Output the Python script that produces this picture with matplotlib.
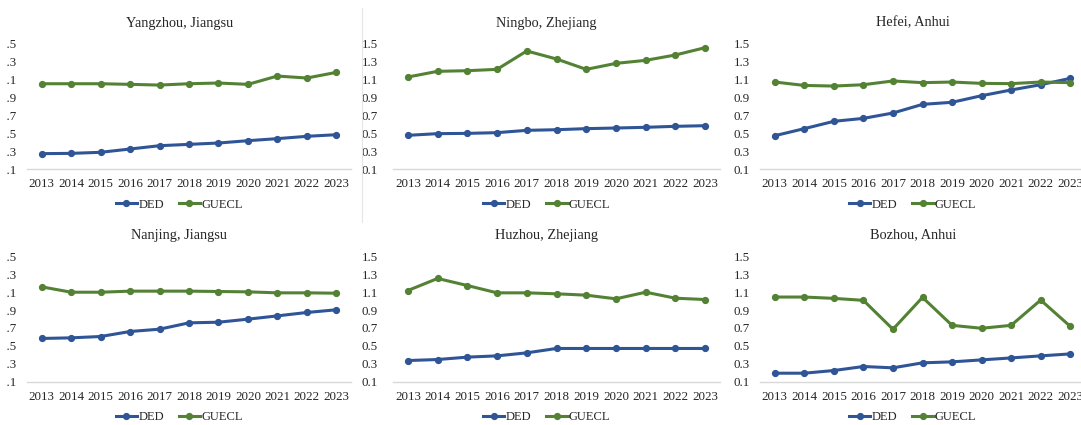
import matplotlib
matplotlib.use("Agg")
import matplotlib.pyplot as plt
from matplotlib.lines import Line2D
from matplotlib.patches import Rectangle

plt.rcParams["font.family"] = ["Liberation Serif", "DejaVu Serif"]

years = ["2013", "2014", "2015", "2016", "2017", "2018", "2019", "2020", "2021", "2022", "2023"]
yticks = [0.1, 0.3, 0.5, 0.7, 0.9, 1.1, 1.3, 1.5]

cities = ["Yangzhou, Jiangsu", "Ningbo, Zhejiang", "Hefei, Anhui",
          "Nanjing, Jiangsu", "Huzhou, Zhejiang", "Bozhou, Anhui"]

ded_yangzhou = [0.272, 0.275, 0.287, 0.324, 0.361, 0.376, 0.391, 0.417, 0.440, 0.466, 0.484]
guecl_yangzhou = [1.055, 1.055, 1.055, 1.048, 1.040, 1.055, 1.063, 1.048, 1.141, 1.119, 1.182]

ded_ningbo = [0.477, 0.496, 0.499, 0.507, 0.533, 0.540, 0.552, 0.559, 0.567, 0.578, 0.585]
guecl_ningbo = [1.130, 1.194, 1.201, 1.216, 1.422, 1.332, 1.216, 1.283, 1.317, 1.377, 1.459]

ded_hefei = [0.473, 0.552, 0.634, 0.667, 0.727, 0.824, 0.847, 0.921, 0.985, 1.044, 1.115]
guecl_hefei = [1.074, 1.036, 1.029, 1.044, 1.086, 1.067, 1.074, 1.059, 1.056, 1.074, 1.067]

ded_nanjing = [0.582, 0.589, 0.604, 0.660, 0.686, 0.757, 0.764, 0.798, 0.835, 0.873, 0.903]
guecl_nanjing = [1.160, 1.100, 1.100, 1.112, 1.112, 1.112, 1.108, 1.104, 1.093, 1.093, 1.089]

ded_huzhou = [0.335, 0.346, 0.373, 0.387, 0.421, 0.470, 0.470, 0.470, 0.470, 0.470, 0.470]
guecl_huzhou = [1.119, 1.254, 1.175, 1.093, 1.093, 1.082, 1.067, 1.026, 1.100, 1.033, 1.018]

ded_bozhou = [0.193, 0.193, 0.223, 0.268, 0.253, 0.309, 0.320, 0.342, 0.364, 0.387, 0.409]
guecl_bozhou = [1.046, 1.046, 1.031, 1.009, 0.685, 1.042, 0.729, 0.696, 0.729, 1.012, 0.718]

ded_series = [ded_yangzhou, ded_ningbo, ded_hefei, ded_nanjing, ded_huzhou, ded_bozhou]
guecl_series = [guecl_yangzhou, guecl_ningbo, guecl_hefei, guecl_nanjing, guecl_huzhou, guecl_bozhou]

BLUE = "#2F5597"
GREEN = "#548235"
TEXT = "#262626"

W, H = 1081, 425
fig = plt.figure(figsize=(W / 100, H / 100), dpi=100)

# panel frames in pixels: (left, width, y-label pad) per column, (top, bottom, title y) per row
cols = [(27, 324, 10), (393, 327, 15), (760, 325, 10)]
rows = [(44, 169, 23), (256.5, 381.5, 235)]

x = list(range(len(years)))
idx = 0
for (ytop, ybot, ytitle) in rows:
    hgt = ybot - ytop
    for (left, width, pad) in cols:
        ax = fig.add_axes([left / W, (H - ybot) / H, width / W, hgt / H])
        ax.plot(x, ded_series[idx], color=BLUE, lw=2.2, marker="o", ms=4.2)
        ax.plot(x, guecl_series[idx], color=GREEN, lw=2.2, marker="o", ms=4.2)
        ax.set_xlim(-0.5, len(years) - 0.5)
        ax.set_ylim(0.1, 1.5)
        ax.set_yticks(yticks)
        ax.set_yticklabels([f"{v:.1f}" for v in yticks])
        ax.set_xticks(x)
        ax.set_xticklabels(years)
        for s in ("top", "right", "left"):
            ax.spines[s].set_visible(False)
        ax.spines["bottom"].set_color("#D9D9D9")
        ax.spines["bottom"].set_linewidth(1.0)
        ax.tick_params(axis="both", length=0, labelsize=9.4, labelcolor=TEXT)
        ax.tick_params(axis="y", pad=pad * 0.72)
        ax.tick_params(axis="x", pad=6.5)
        ax.set_facecolor("none")
        ax.text(0.47, (ybot - ytitle) / hgt, cities[idx], transform=ax.transAxes,
                ha="center", va="center", fontsize=10.3, color=TEXT)
        handles = [Line2D([], [], color=BLUE, lw=2.2, marker="o", ms=4.2),
                   Line2D([], [], color=GREEN, lw=2.2, marker="o", ms=4.2)]
        ax.legend(handles, ["DED", "GUECL"], loc="center", ncol=2, frameon=False,
                  bbox_to_anchor=(0.47, -35.5 / hgt), fontsize=9,
                  handlelength=1.7, handletextpad=0.1, columnspacing=1.2,
                  labelcolor=TEXT)
        idx += 1

# faint border of the middle chart area
fig.add_artist(Line2D([362 / W, 362 / W], [(H - 8) / H, (H - 222) / H],
                      color="#E6E6E6", lw=0.8))

# the page edge trims the leading digit of the left-hand axis labels
fig.add_artist(Rectangle((0, 0), 7.5 / W, 1, transform=fig.transFigure,
                         facecolor="white", edgecolor="none", zorder=10))

fig.savefig("out.png", dpi=100, facecolor="white")
